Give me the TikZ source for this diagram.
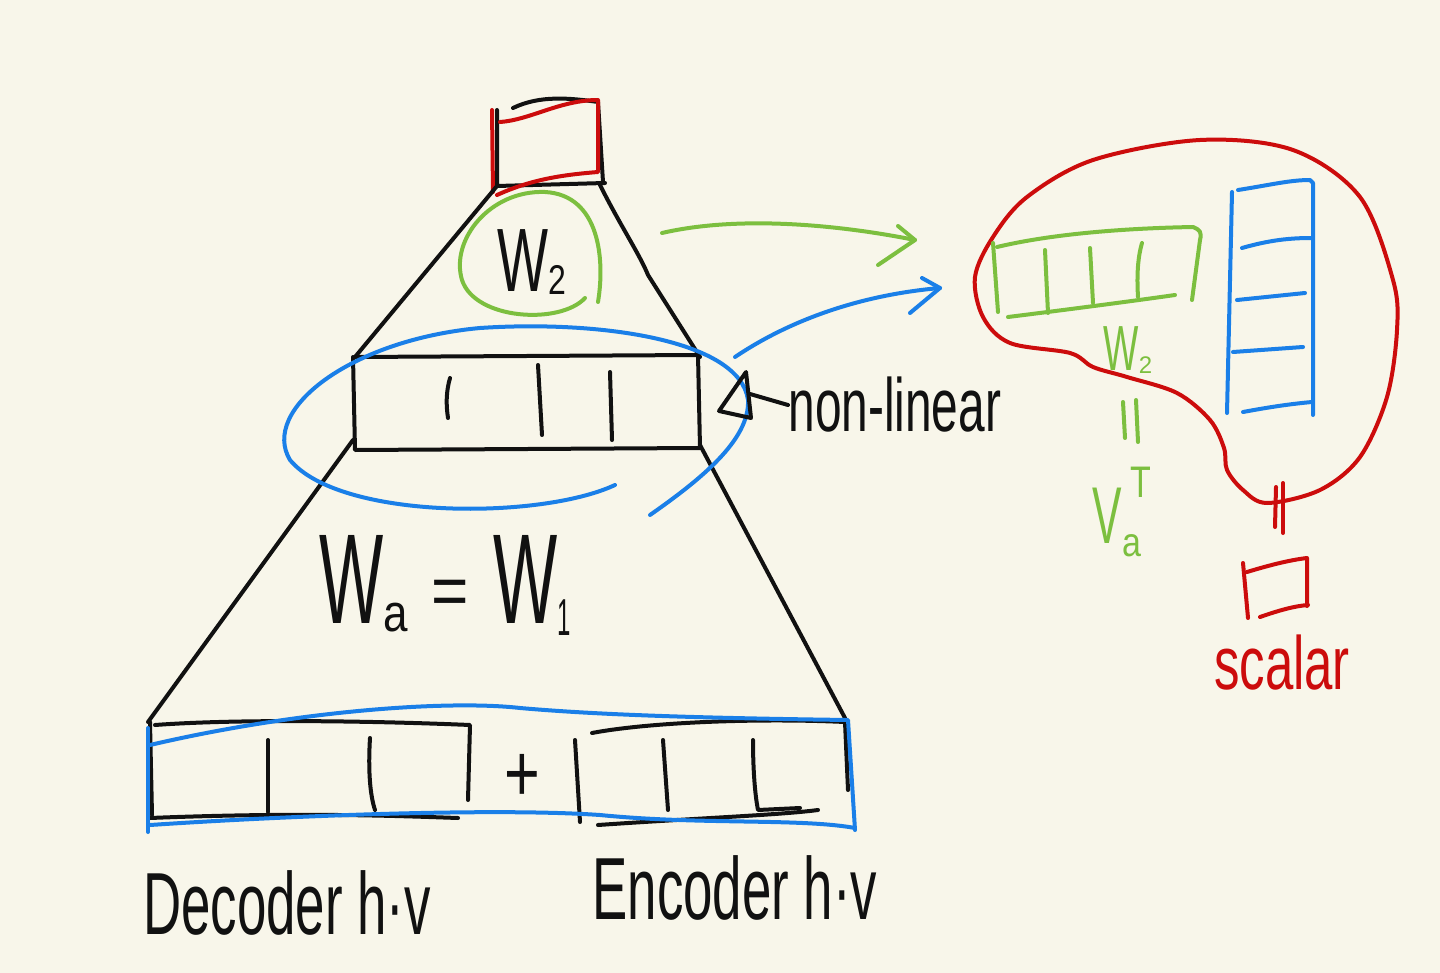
\documentclass[tikz,border=0pt]{standalone}
\usepackage{fontspec}
\setmainfont{Liberation Sans}
\usetikzlibrary{arrows.meta}
\definecolor{bgc}{HTML}{F8F6EA}
\definecolor{inkc}{HTML}{111111}
\definecolor{redc}{HTML}{CC0C0C}
\definecolor{greenc}{HTML}{7CBF3F}
\definecolor{bluec}{HTML}{1A7FE8}
\newcommand{\hwx}[3]{\scalebox{#1}[#2]{#3}}
\begin{document}
\begin{tikzpicture}[x=0.5pt,y=-0.5pt,line cap=round,line join=round,
  ink/.style={draw=inkc,line width=2pt},
  rink/.style={draw=redc,line width=2pt},
  gink/.style={draw=greenc,line width=2pt},
  bink/.style={draw=bluec,line width=2pt},
  txt/.style={inner sep=0pt,text=inkc},
  big/.style={font=\fontsize{30}{30}\selectfont},
  mid/.style={font=\fontsize{26}{26}\selectfont}]
\fill[bgc] (0,0) rectangle (1440,973);
\useasboundingbox (0,0) rectangle (1440,973);

% top output box
\draw[ink] (513,108) .. controls (540,95) and (570,98) .. (598,102) -- (603,182);
\draw[ink] (497,110) -- (497,186) -- (605,183);
\draw[rink] (500,122) .. controls (530,120) and (560,100) .. (598,100) -- (598,172) .. controls (560,175) and (530,180) .. (497,195);
\draw[rink] (492,110) -- (493,192);

% upper triangle
\coordinate (tl) at (497,186);
\coordinate (tr) at (600,185);
\coordinate (ml) at (355,357);
\coordinate (mr) at (700,357);
\draw[ink] (tl) -- (ml);
\draw[ink] (tr) .. controls (620,225) and (640,255) .. (648,275) -- (mr);

% W2 with green loop
\node[txt,font=\fontsize{30}{30}\selectfont] (w2) at (532,262) {\hwx{0.9}{1.5}{W}\raisebox{-0.05em}{\hwx{1}{1.3}{\fontsize{16}{16}\selectfont 2}}};
\draw[gink] (598,302) .. controls (605,260) and (600,195) .. (545,192) .. controls (490,190) and (450,240) .. (462,280) .. controls (475,320) and (560,325) .. (585,298);

% middle (hidden) box
\draw[ink] (ml) -- (698,355) -- (700,448) -- (355,450) -- (353,357);
\draw[ink] (450,378) .. controls (446,392) and (446,405) .. (448,418);
\draw[ink] (538,365) -- (542,435);
\draw[ink] (610,372) -- (612,440);

% lower triangle
\coordinate (bl) at (148,722);
\coordinate (br) at (845,718);
\draw[ink] (353,440) -- (bl);
\draw[ink] (700,445) -- (br);

% blue loop
\draw[bink] (615,485) .. controls (540,520) and (340,520) .. (290,460) .. controls (260,410) and (350,340) .. (480,328) .. controls (600,320) and (740,340) .. (748,400) .. controls (750,440) and (700,480) .. (650,515);

% W_a = W_1
\node[txt,font=\fontsize{40}{40}\selectfont] (wa) at (445,585) {\hwx{0.85}{1.6}{W}\raisebox{-0.1em}{\hwx{1}{1.2}{\fontsize{22}{22}\selectfont a}}\hspace{0.3em}\raisebox{0.1em}{\hwx{0.8}{0.9}{=}}\hspace{0.3em}\hwx{0.85}{1.6}{W}\raisebox{-0.15em}{\hwx{0.6}{1.3}{\fontsize{20}{20}\selectfont 1}}};

% non-linear label
\node[txt,mid,anchor=west] (nl) at (788,405) {\hwx{0.92}{1.45}{non-linear}};
\coordinate (nlt) at (719,411);
\draw[ink] (746,372) -- (nlt) -- (751,418) -- cycle;
\draw[ink] (750,394) -- (nl.west);

% arrows to the right part
\coordinate (ga) at (662,233);
\coordinate (gb) at (915,240);
\draw[gink] (ga) .. controls (740,215) and (840,225) .. (gb);
\draw[gink] (898,226) -- (gb) -- (878,265);
\coordinate (ba) at (735,357);
\coordinate (bb) at (940,288);
\draw[bink] (ba) .. controls (790,320) and (860,295) .. (bb);
\draw[bink] (922,278) -- (bb) -- (910,313);

% right: red blob
\draw[rink] plot[smooth cycle,tension=0.55] coordinates {(1200,140) (1293,150) (1360,197) (1393,280) (1397,330) (1387,397) (1360,457) (1320,490) (1267,503) (1243,490) (1227,470) (1224,448) (1210,420) (1177,393) (1127,377) (1093,367) (1070,353) (1010,343) (983,317) (975,277) (993,237) (1027,197) (1093,160)};
\draw[rink] (1276,487) -- (1275,527);
\draw[rink] (1283,483) -- (1283,533);

% green row vector
\draw[gink] (997,247) .. controls (1060,232) and (1140,228) .. (1193,227) .. controls (1200,230) and (1202,232) .. (1200,240) -- (1192,300);
\draw[gink] (993,243) -- (998,312);
\draw[gink] (1008,317) .. controls (1080,308) and (1140,300) .. (1175,295);
\draw[gink] (1045,250) -- (1048,313);
\draw[gink] (1090,248) -- (1093,303);
\draw[gink] (1142,243) .. controls (1137,260) and (1137,280) .. (1138,297);

% blue column
\draw[bink] (1232,192) -- (1227,413);
\draw[bink] (1238,190) .. controls (1270,185) and (1290,180) .. (1310,180) -- (1313,183) -- (1313,415);
\draw[bink] (1242,248) .. controls (1270,240) and (1290,238) .. (1312,238);
\draw[bink] (1237,300) -- (1305,293);
\draw[bink] (1233,352) -- (1303,347);
\draw[bink] (1243,412) .. controls (1270,407) and (1290,404) .. (1312,402);

% green labels
\node[txt,text=greenc,font=\fontsize{22}{22}\selectfont] (gw) at (1128,350) {\hwx{0.85}{1.45}{W}\raisebox{-0.05em}{\fontsize{12}{12}\selectfont 2}};
\draw[gink] (1123,402) -- (1125,438);
\draw[gink] (1136,400) -- (1138,442);
\node[txt,text=greenc,font=\fontsize{26}{26}\selectfont] (va) at (1122,512) {\hwx{0.85}{1.55}{V}\rlap{\raisebox{-0.25em}{\hwx{1}{1.2}{\fontsize{17}{17}\selectfont a}}}\raisebox{0.9em}{\hwx{1}{1.3}{\fontsize{17}{17}\selectfont\hspace{0.25em}T}}};

% scalar
\draw[rink] (1243,563) -- (1248,618);
\draw[rink] (1247,572) .. controls (1270,565) and (1290,560) .. (1307,558) -- (1307,606);
\draw[rink] (1260,617) .. controls (1280,610) and (1295,606) .. (1308,605);
\node[txt,text=redc,mid] (sc) at (1282,663) {\hwx{0.98}{1.45}{scalar}};

% bottom boxes
\draw[ink] (155,725) .. controls (250,718) and (400,722) .. (470,725) -- (468,800);
\draw[ink] (150,722) -- (152,815);
\draw[ink] (150,818) .. controls (300,812) and (400,816) .. (458,818);
\draw[ink] (268,740) -- (268,812);
\draw[ink] (370,738) .. controls (368,770) and (370,795) .. (375,810);
\node[txt,font=\fontsize{34}{34}\selectfont] (plus) at (522,778) {\hwx{0.9}{1.2}{+}};
\draw[ink] (575,740) -- (580,822);
\draw[ink] (592,733) .. controls (650,722) and (760,718) .. (845,722) -- (848,790);
\draw[ink] (598,825) .. controls (700,818) and (780,815) .. (818,810);
\draw[ink] (663,740) -- (668,810);
\draw[ink] (753,740) .. controls (753,770) and (755,795) .. (758,810) -- (800,808);

% blue band
\draw[bink] (150,745) .. controls (300,710) and (450,700) .. (520,708) .. controls (600,715) and (700,718) .. (848,720) -- (855,830);
\draw[bink] (148,728) -- (148,832);
\draw[bink] (150,825) .. controls (300,815) and (500,808) .. (600,815) .. controls (700,825) and (800,818) .. (855,828);

% bottom labels
\node[txt,big] (dec) at (287,903) {\hwx{0.88}{1.47}{Decoder h·v}};
\node[txt,big] (enc) at (735,888) {\hwx{0.88}{1.47}{Encoder h·v}};
\end{tikzpicture}
\end{document}
